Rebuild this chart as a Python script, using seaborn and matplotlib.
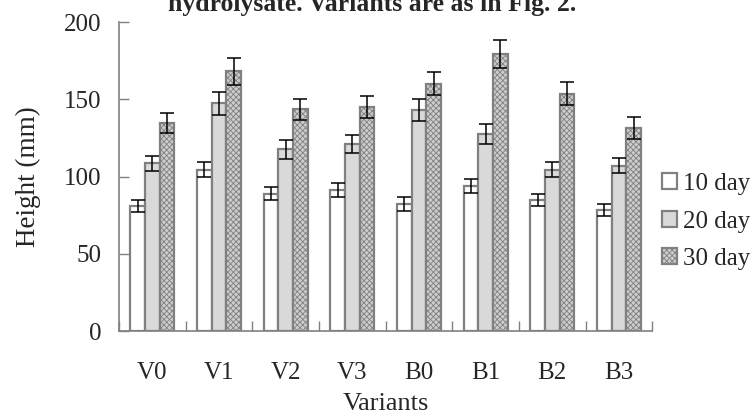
import matplotlib
matplotlib.use("Agg")
import matplotlib.pyplot as plt
import seaborn as sns
import pandas as pd
import numpy as np
from matplotlib.patches import Patch

variants = ["V0", "V1", "V2", "V3", "B0", "B1", "B2", "B3"]
days = ["10 day", "20 day", "30 day"]
h10 = [81, 104.5, 89, 91.5, 82.5, 94, 85, 78.5]
h20 = [108.5, 147.5, 117.5, 121, 143, 127.5, 104.5, 107]
h30 = [134.5, 168, 143.5, 145, 160, 179.5, 153.5, 131.5]
e10 = [4, 5, 4, 4.5, 4.5, 4.5, 4, 4]
e20 = [5, 7.5, 6, 6, 7, 6.5, 5, 5]
e30 = [6.5, 8.5, 7, 7, 7.5, 9, 7.5, 7]

sns.set_theme(style="white")
plt.rcParams['font.family'] = ['Liberation Serif', 'DejaVu Serif']
plt.rcParams['hatch.color'] = '#9a9a9a'
plt.rcParams['hatch.linewidth'] = 0.6

rows = []
for d, vals in zip(days, [h10, h20, h30]):
    for v, y in zip(variants, vals):
        rows.append({"Variant": v, "Day": d, "Height": y})
df = pd.DataFrame(rows)
errs = {d: e for d, e in zip(days, [e10, e20, e30])}

fig = plt.figure(figsize=(7.54, 4.16), dpi=100)
ax = fig.add_axes([0.158, 0.2043, 0.707, 0.7427])

fills = ["#ffffff", "#d9d9d9", "#cdcdcd"]
sns.barplot(data=df, x="Variant", y="Height", hue="Day", order=variants,
            hue_order=days, palette=fills, width=0.66, errorbar=None,
            edgecolor="#808080", linewidth=1.6, legend=False, ax=ax)

bars = ax.patches
n = len(variants)
for i, d in enumerate(days):
    for j in range(n):
        p = bars[i * n + j]
        if i == 2:
            p.set_hatch("xxxxxx")
        cx = p.get_x() + p.get_width() / 2
        ax.errorbar(cx, p.get_height(), yerr=errs[d][j], color="black",
                    capsize=5.3, elinewidth=1.1, capthick=1.1, fmt="none", zorder=5)

ax.set_ylim(0, 200)
ax.set_xlim(-0.5, n - 0.5)
ax.set_yticks([0, 50, 100, 150, 200])
ax.set_xticks(range(n))
ax.set_xticklabels(variants)
ax.set_xticks(np.arange(-0.5, n, 1.0), minor=True)
ax.tick_params(axis="x", which="major", length=0, labelsize=18, pad=22)
ax.tick_params(axis="x", which="minor", length=7, direction="in", color="#808080", width=1, bottom=True)
ax.tick_params(axis="y", length=7, direction="in", color="#808080", width=1, labelsize=18, pad=13, left=True)

for s in ["top", "right"]:
    ax.spines[s].set_visible(False)
for s in ["left", "bottom"]:
    ax.spines[s].set_color("#808080")
    ax.spines[s].set_linewidth(1.2)

ax.set_xlabel("Variants", fontsize=19, labelpad=7)
ax.set_ylabel("Height (mm)", fontsize=19.5, labelpad=16)

handles = [Patch(facecolor=fills[k], edgecolor="#808080", linewidth=1.6,
                 hatch="xxxxxx" if k == 2 else None, label=days[k]) for k in range(3)]
fig.legend(handles=handles, loc="center left", bbox_to_anchor=(0.878, 0.467),
           frameon=False, fontsize=18, handlelength=0.6, handleheight=0.6,
           handletextpad=0.25, labelspacing=0.62, borderaxespad=0, borderpad=0)

fig.text(0.493, 1 - 11 / 416, "hydrolysate. Variants are as in Fig. 2.", ha="center", va="baseline",
         fontsize=18.5, fontweight="bold")

fig.savefig("out.png", dpi=100)
